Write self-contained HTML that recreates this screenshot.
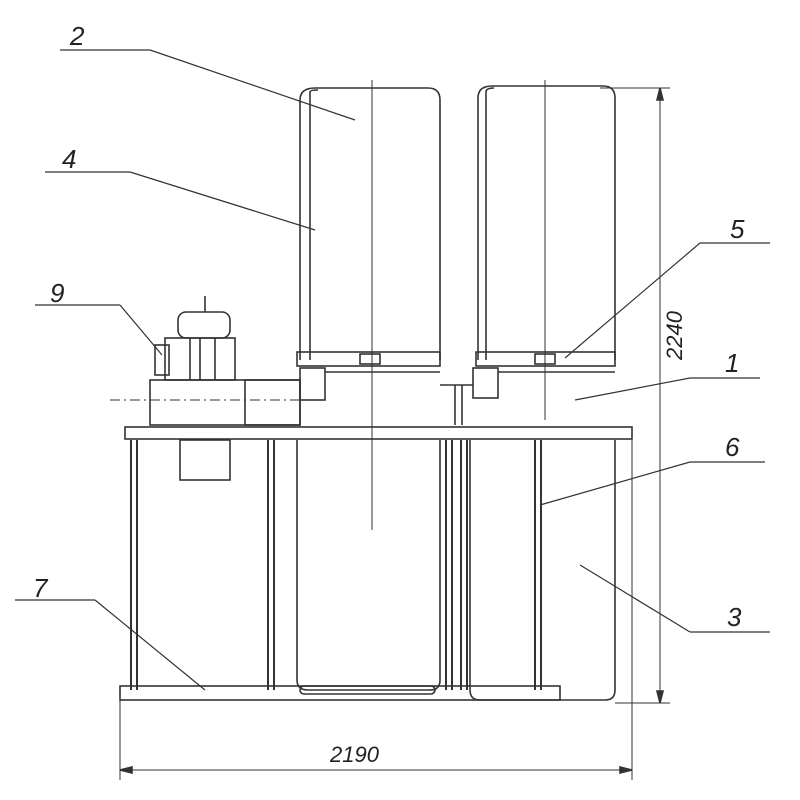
<!DOCTYPE html>
<html><head><meta charset="utf-8"><style>
html,body{margin:0;padding:0;background:#fff;}
svg{display:block}
text{font-family:"Liberation Sans",sans-serif;font-style:italic;fill:#222;}
</style></head><body>
<svg width="800" height="800" viewBox="0 0 800 800" xmlns="http://www.w3.org/2000/svg">
<g fill="none" stroke="#333" stroke-width="1.6">
<!-- upper bags -->
<path d="M300 360 V100 Q300 88 315 88 H428 Q440 88 440 100 V360"/>
<path d="M310 360 V92 Q310 90 318 90"/>
<path d="M478 360 V98 Q478 86 492 86 H603 Q615 86 615 98 V360"/>
<path d="M486 360 V92 Q486 88 494 88"/>
<line x1="372" y1="80" x2="372" y2="530" stroke-width="1"/>
<line x1="545" y1="80" x2="545" y2="420" stroke-width="1"/>
<!-- band -->
<rect x="297" y="352" width="143" height="14"/>
<rect x="476" y="352" width="139" height="14"/>
<rect x="360" y="354" width="20" height="10"/>
<rect x="535" y="354" width="20" height="10"/>
<!-- lower flanges -->
<rect x="300" y="368" width="25" height="32"/>
<rect x="473" y="368" width="25" height="30"/>
<line x1="325" y1="372" x2="440" y2="372"/>
<line x1="498" y1="372" x2="615" y2="372"/>
<line x1="440" y1="385" x2="473" y2="385"/>
<line x1="455" y1="385" x2="455" y2="425"/>
<line x1="462" y1="385" x2="462" y2="425"/>
<!-- motor/fan -->
<rect x="150" y="380" width="150" height="45"/>
<rect x="165" y="338" width="70" height="42"/>
<rect x="178" y="312" width="52" height="26" rx="8"/>
<line x1="205" y1="296" x2="205" y2="312"/>
<rect x="155" y="345" width="14" height="30"/>
<line x1="190" y1="338" x2="190" y2="380"/><line x1="200" y1="338" x2="200" y2="380"/><line x1="215" y1="338" x2="215" y2="380"/>
<line x1="110" y1="400" x2="300" y2="400" stroke-dasharray="10,4,2,4" stroke-width="1"/>
<rect x="245" y="380" width="55" height="45"/>
<!-- table top -->
<rect x="125" y="427" width="507" height="12"/>
<rect x="180" y="440" width="50" height="40"/>
<!-- lower bags -->
<path d="M297 440 V680 Q297 690 308 690 H430 Q440 690 440 680 V440"/>
<path d="M470 440 V690 Q470 700 480 700 H605 Q615 700 615 690 V440"/>
<!-- legs -->
<g stroke-width="2">
<line x1="131" y1="440" x2="131" y2="690"/><line x1="137" y1="440" x2="137" y2="690"/>
<line x1="268" y1="440" x2="268" y2="690"/><line x1="274" y1="440" x2="274" y2="690"/>
<line x1="446" y1="440" x2="446" y2="690"/><line x1="452" y1="440" x2="452" y2="690"/>
<line x1="461" y1="440" x2="461" y2="690"/><line x1="467" y1="440" x2="467" y2="690"/>
<line x1="535" y1="440" x2="535" y2="690"/><line x1="541" y1="440" x2="541" y2="690"/>
</g>
<!-- base -->
<rect x="120" y="686" width="440" height="14"/>
<rect x="300" y="686" width="135" height="8" rx="4"/>
<!-- dimensions -->
<line x1="120" y1="700" x2="120" y2="780" stroke-width="1"/>
<line x1="632" y1="440" x2="632" y2="780" stroke-width="1"/>
<line x1="120" y1="770" x2="632" y2="770" stroke-width="1"/>
<path d="M120 770 l12 -3 v6z M632 770 l-12 -3 v6z" fill="#333"/>
<line x1="600" y1="88" x2="670" y2="88" stroke-width="1"/>
<line x1="615" y1="703" x2="670" y2="703" stroke-width="1"/>
<line x1="660" y1="88" x2="660" y2="703" stroke-width="1"/>
<path d="M660 88 l-3 12 h6z M660 703 l-3 -12 h6z" fill="#333"/>
<!-- leaders -->
<g stroke-width="1.2">
<line x1="60" y1="50" x2="150" y2="50"/><line x1="150" y1="50" x2="355" y2="120"/>
<line x1="45" y1="172" x2="130" y2="172"/><line x1="130" y1="172" x2="315" y2="230"/>
<line x1="35" y1="305" x2="120" y2="305"/><line x1="120" y1="305" x2="162" y2="355"/>
<line x1="15" y1="600" x2="95" y2="600"/><line x1="95" y1="600" x2="205" y2="690"/>
<line x1="700" y1="243" x2="770" y2="243"/><line x1="700" y1="243" x2="565" y2="358"/>
<line x1="690" y1="378" x2="760" y2="378"/><line x1="690" y1="378" x2="575" y2="400"/>
<line x1="690" y1="462" x2="765" y2="462"/><line x1="690" y1="462" x2="540" y2="505"/>
<line x1="690" y1="632" x2="770" y2="632"/><line x1="690" y1="632" x2="580" y2="565"/>
</g>
</g>
<g font-size="26">
<text x="70" y="45">2</text>
<text x="62" y="168">4</text>
<text x="50" y="302">9</text>
<text x="33" y="597">7</text>
<text x="730" y="238">5</text>
<text x="725" y="372">1</text>
<text x="725" y="456">6</text>
<text x="727" y="626">3</text>
<text x="330" y="762" font-size="22">2190</text>
<text x="0" y="0" font-size="22" transform="translate(682 360) rotate(-90)">2240</text>
</g>
</svg>
</body></html>
